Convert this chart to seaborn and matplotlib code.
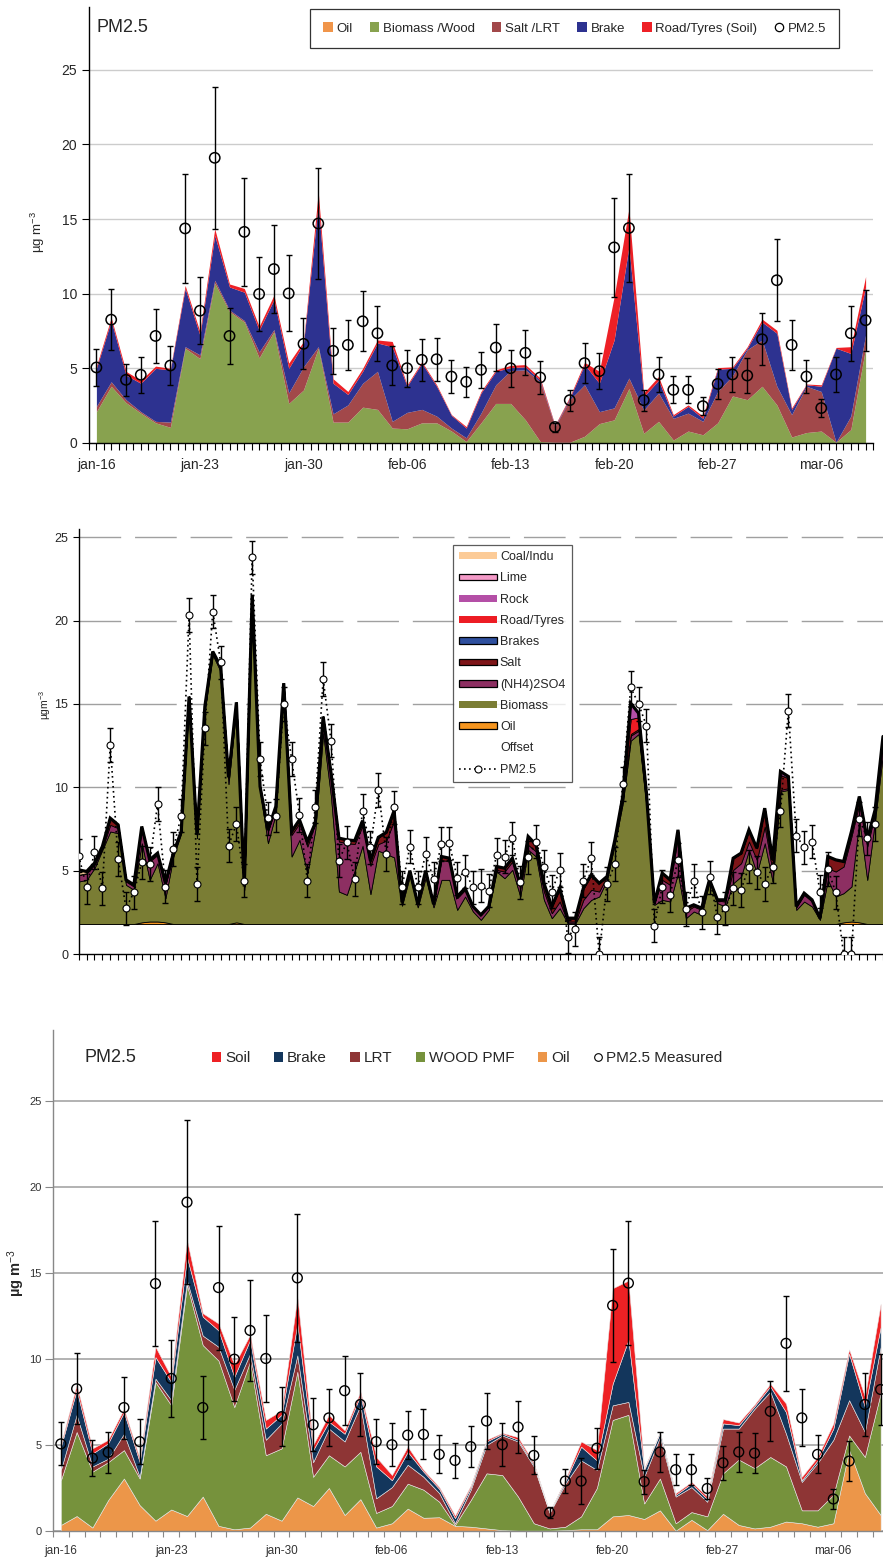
import numpy as np
import matplotlib
matplotlib.use("Agg")
import matplotlib.pyplot as plt
import seaborn as sns
from matplotlib.patches import Patch
from matplotlib.lines import Line2D

sns.set_theme(style="ticks")
plt.rcParams['font.family'] = ['Liberation Sans', 'DejaVu Sans']
plt.rcParams['mathtext.fontset'] = 'custom'
plt.rcParams['mathtext.rm'] = 'Liberation Sans'
plt.rcParams['mathtext.it'] = 'Liberation Sans:italic'
plt.rcParams['mathtext.bf'] = 'Liberation Sans:bold'

# ---------------- data ----------------
tick_labels = ["jan-16", "jan-23", "jan-30", "feb-06", "feb-13", "feb-20", "feb-27", "mar-06"]
tick_days = [0, 7, 14, 21, 28, 35, 42, 49]

# measured PM2.5 (daily) and its uncertainty
pm_top = [5.06, 8.26, 4.23, 4.57, 7.17, 5.19, 14.37, 8.86, 19.1, 7.17,
          14.14, 9.98, 11.65, 10.02, 6.64, 14.7, 6.17, 6.57, 8.15, 7.35,
          5.19, 5.01, 5.57, 5.61, 4.45, 4.1, 4.9, 6.39, 5.01, 6.04,
          4.39, 1.07, 2.87, 5.35, 4.81, 13.1, 14.4, 2.87, 4.59, 3.56,
          3.56, 2.47, 3.96, 4.59, 4.52, 6.95, 10.9, 6.57, 4.45, 2.34,
          4.59, 7.35, 8.22]
pm_bot = [5.06, 8.26, 4.23, 4.57, 7.17, 5.19, 14.37, 8.86, 19.1, 7.17,
          14.14, 9.98, 11.65, 10.02, 6.64, 14.7, 6.17, 6.57, 8.15, 7.35,
          5.19, 5.01, 5.57, 5.61, 4.45, 4.1, 4.9, 6.39, 5.01, 6.04,
          4.39, 1.07, 2.9, 2.9, 4.81, 13.1, 14.4, 2.87, 4.59, 3.56,
          3.56, 2.47, 3.96, 4.59, 4.52, 6.95, 10.9, 6.57, 4.45, 1.86,
          4.06, 7.35, 8.22]
pm_err = [1.25, 2.05, 1.05, 1.2, 1.8, 1.3, 3.65, 2.25, 4.75, 1.85,
          3.6, 2.45, 2.95, 2.55, 1.7, 3.7, 1.55, 1.65, 2.0, 1.85,
          1.3, 1.25, 1.4, 1.45, 1.1, 1.0, 1.2, 1.6, 1.25, 1.5,
          1.1, 0.3, 0.7, 1.35, 1.2, 3.3, 3.6, 0.7, 1.15, 0.9,
          0.9, 0.6, 1.0, 1.15, 1.15, 1.75, 2.75, 1.65, 1.1, 0.6,
          1.15, 1.85, 2.05]

# top panel: cumulative tops of the stacked sources
top_wood = [2.1, 3.8, 2.7, 2.0, 1.35, 1.05, 6.35, 5.65, 10.7, 8.8,
            8.1, 5.7, 7.45, 2.65, 3.55, 6.35, 1.4, 1.4, 2.4, 2.25,
            1.0, 0.95, 1.35, 1.35, 0.8, 0.1, 1.35, 2.65, 2.65, 1.55,
            0.1, 0.05, 0.05, 0.45, 1.3, 1.55, 3.65, 0.65, 1.45, 0.2,
            0.8, 0.55, 1.35, 3.15, 2.9, 3.8, 2.55, 0.4, 0.7, 0.8,
            0.05, 0.9, 6.35]
top_salt = [2.45, 4.1, 2.9, 2.1, 1.45, 1.4, 6.45, 5.9, 10.9, 8.9,
            8.2, 6.1, 7.6, 3.35, 5.1, 6.45, 1.95, 2.55, 4.0, 4.8,
            1.45, 2.05, 2.25, 1.8, 1.0, 0.35, 2.0, 3.9, 4.85, 4.9,
            4.1, 1.1, 2.9, 3.9, 2.1, 2.35, 4.35, 2.2, 3.35, 1.65,
            2.0, 1.45, 3.45, 4.5, 6.25, 6.9, 3.8, 1.9, 3.8, 3.45,
            0.05, 1.8, 7.25]
top_brake = [5.0, 8.2, 4.55, 4.0, 5.0, 4.9, 10.35, 7.2, 13.9, 10.45,
             10.1, 7.55, 9.6, 5.0, 6.65, 16.0, 4.0, 3.25, 4.8, 6.7,
             6.45, 3.8, 5.35, 3.8, 1.85, 1.0, 3.35, 4.8, 5.05, 5.1,
             4.2, 1.15, 3.0, 5.25, 4.0, 6.9, 13.15, 3.1, 4.2, 1.8,
             2.45, 1.65, 4.95, 5.0, 6.35, 8.1, 7.35, 2.25, 3.9, 3.8,
             6.35, 6.0, 10.45]
top_road = [5.15, 8.4, 4.8, 4.2, 5.15, 5.0, 10.55, 7.45, 14.35, 10.65,
            10.35, 7.8, 9.9, 5.35, 6.8, 16.8, 4.3, 3.45, 5.0, 6.9,
            6.8, 3.9, 5.45, 3.9, 1.9, 1.1, 3.45, 4.9, 5.2, 5.25,
            4.35, 1.2, 3.1, 5.4, 4.8, 9.8, 15.7, 3.35, 4.45, 1.9,
            2.55, 1.8, 5.05, 5.1, 6.45, 8.3, 7.55, 2.35, 3.95, 3.9,
            6.4, 6.45, 11.15]

# bottom panel: cumulative tops of the stacked sources
bot_oil = [0.35, 0.87, 0.2, 1.8, 3.05, 1.5, 0.6, 1.25, 0.87, 2.0,
           0.3, 0.1, 0.2, 1.0, 0.6, 1.95, 1.45, 2.5, 0.93, 1.85,
           0.2, 0.45, 1.3, 0.77, 0.8, 0.3, 0.25, 0.15, 0.05, 0.02,
           0.02, 0.02, 0.05, 0.1, 0.1, 0.85, 0.93, 0.7, 1.2, 0.02,
           0.65, 0.05, 1.0, 0.35, 0.15, 0.25, 0.55, 0.45, 0.25, 0.45,
           4.7, 2.2, 0.93]
bot_wood = [2.95, 5.75, 3.45, 4.0, 4.7, 3.05, 8.65, 7.3, 14.3, 10.8,
            9.9, 7.2, 9.85, 4.4, 4.8, 9.25, 3.15, 4.4, 3.75, 4.6,
            1.05, 1.45, 2.75, 2.4, 1.7, 0.35, 1.8, 3.35, 3.25, 2.0,
            0.45, 0.15, 0.25, 0.85, 2.5, 6.45, 6.75, 1.6, 3.05, 0.45,
            1.1, 0.85, 3.35, 4.15, 3.65, 4.3, 3.75, 1.2, 1.2, 2.1,
            5.55, 4.3, 8.0]
bot_lrt = [3.55, 6.75, 3.75, 4.2, 5.65, 3.15, 8.85, 7.6, 14.55, 11.35,
           10.7, 8.2, 10.3, 5.3, 6.25, 10.2, 4.0, 5.95, 5.2, 7.3,
           1.9, 2.55, 3.85, 3.15, 2.2, 0.45, 2.4, 5.0, 5.55, 5.2,
           3.75, 1.05, 2.75, 4.1, 3.55, 7.3, 7.5, 3.15, 5.45, 2.0,
           2.55, 1.7, 5.95, 5.95, 7.1, 8.1, 5.65, 2.85, 3.95, 5.3,
           7.6, 5.75, 10.7]
bot_brake = [4.9, 8.2, 4.5, 5.1, 6.9, 4.0, 10.1, 8.65, 15.9, 12.45,
             11.65, 8.95, 11.1, 5.95, 6.75, 12.05, 4.7, 6.35, 5.65, 7.9,
             3.75, 2.95, 4.6, 3.45, 2.45, 0.75, 2.55, 5.2, 5.65, 5.3,
             3.85, 1.08, 2.9, 4.9, 4.1, 8.55, 11.1, 3.55, 5.7, 2.1,
             2.75, 1.85, 6.25, 6.15, 7.25, 8.4, 6.9, 2.95, 4.1, 5.95,
             10.3, 7.2, 11.85]
bot_soil = [5.05, 8.5, 4.8, 5.3, 7.1, 4.2, 10.7, 8.95, 16.9, 12.65,
            12.05, 9.65, 11.4, 6.45, 7.0, 13.6, 5.0, 6.75, 5.85, 8.1,
            4.3, 3.25, 4.9, 3.55, 2.55, 0.9, 2.65, 5.3, 5.7, 5.45,
            3.95, 1.1, 3.0, 5.2, 4.7, 14.1, 14.55, 3.65, 5.75, 2.2,
            2.85, 2.0, 6.5, 6.3, 7.35, 8.55, 7.4, 3.15, 4.3, 6.25,
            10.55, 7.8, 13.2]

# middle panel (12-hourly samples): source contributions stacked on an offset
mid_offset = 1.8
mid_bio = [2.55, 2.65, 3.35, 4.45, 5.55, 5.45, 2.35, 2.05, 4.75, 2.5,
           3.5, 1.45, 4.05, 5.45, 13.45, 5.15, 12.85, 16.15, 15.15, 8.4,
           12.95, 2.05, 19.45, 7.95, 4.85, 6.65, 14.05, 4.05, 5.05, 3.05,
           5.65, 11.45, 7.65, 1.95, 1.75, 3.2, 4.7, 1.8, 4.4, 4.2,
           4.0, 1.1, 2.9, 1.0, 2.8, 1.0, 2.65, 2.65, 0.85, 1.65,
           0.75, 0.25, 0.85, 3.15, 2.75, 3.25, 1.65, 4.45, 4.05, 1.45,
           0.35, 0.95, 0.05, 0.05, 0.95, 1.45, 1.65, 2.65, 4.85, 7.25,
           11.0, 11.4, 7.05, 1.15, 1.45, 1.35, 3.05, 0.35, 0.75, 0.55,
           2.55, 1.25, 1.05, 2.45, 2.85, 4.45, 3.05, 4.85, 2.55, 7.95,
           8.05, 0.85, 1.35, 1.05, 0.25, 2.65, 1.65, 1.75, 2.1, 6.15,
           2.65, 6.25, 10.25]
mid_nh4 = [0.4, 0.4, 0.2, 0.1, 0.4, 0.3, 0.2, 0.2, 0.9, 1.1,
           0.5, 0.8, 0.15, 0.1, 0.2, 0.2, 0.2, 0.2, 0.3, 0.4,
           0.25, 0.2, 0.3, 0.3, 0.7, 0.4, 0.4, 1.3, 1.0, 1.6,
           0.4, 0.9, 1.3, 3.0, 3.1, 1.6, 1.2, 1.7, 0.4, 0.8,
           2.2, 0.2, 0.3, 0.2, 0.4, 0.2, 1.2, 1.1, 0.7, 0.4,
           0.3, 0.3, 0.2, 0.1, 0.4, 0.5, 0.5, 0.3, 0.3, 0.5,
           0.3, 0.4, 0.1, 0.1, 0.5, 0.6, 0.3, 0.2, 0.2, 0.2,
           0.3, 0.2, 0.2, 0.1, 1.2, 1.0, 2.2, 0.4, 0.3, 0.3,
           0.1, 0.15, 0.3, 0.8, 0.8, 0.5, 0.8, 1.0, 0.6, 0.1,
           0.1, 0.15, 0.4, 0.3, 0.1, 0.7, 1.5, 1.6, 3.0, 1.0,
           2.0, 0.4, 0.7]
mid_salt = [0.0, 0.0, 0.1, 0.1, 0.4, 0.2, 0.1, 0.1, 0.1, 0.1,
            0.1, 0.1, 0.05, 0.0, 0.0, 0.0, 0.0, 0.0, 0.0, 0.0,
            0.0, 0.0, 0.0, 0.0, 0.1, 0.0, 0.0, 0.2, 0.2, 0.3,
            0.0, 0.1, 0.1, 0.2, 0.2, 0.2, 0.3, 0.3, 0.4, 0.5,
            0.6, 0.0, 0.0, 0.0, 0.0, 0.0, 0.2, 0.2, 0.1, 0.1,
            0.0, 0.0, 0.0, 0.2, 0.2, 0.2, 0.2, 0.5, 0.4, 0.5,
            0.4, 0.8, 0.2, 0.2, 0.7, 0.9, 0.5, 0.0, 0.0, 0.1,
            0.1, 0.1, 0.1, 0.0, 0.4, 0.3, 0.4, 0.2, 0.1, 0.1,
            0.0, 0.05, 0.1, 0.7, 0.6, 0.7, 0.7, 1.1, 0.7, 0.9,
            0.6, 0.05, 0.1, 0.1, 0.0, 0.7, 0.7, 0.3, 0.3, 0.4,
            0.4, 0.2, 0.3]
road_idx, road_val = [69, 70, 71, 72], [0.1, 0.9, 0.7, 0.4]
rock_idx, rock_val = [70, 71, 72, 89, 90], [0.95, 0.25, 0.1, 0.2, 0.1]
oil_idx, oil_val = [8, 9, 10, 11, 20, 97, 98, 99], [0.1, 0.15, 0.15, 0.1, 0.1, 0.1, 0.15, 0.1]
coal_idx, coal_val = [0, 1], [0.3, 0.1]
mid_pm = [5.9, 4.0, 6.1, 3.95, 12.55, 5.7, 2.75, 3.7, 5.5, 5.4,
          9.0, 4.05, 6.3, 8.3, 20.35, 4.2, 13.55, 20.55, 17.5, 6.5,
          7.8, 4.4, 23.8, 11.7, 8.15, 8.3, 15.0, 11.7, 8.35, 4.4,
          8.85, 16.5, 12.8, 5.6, 6.7, 4.5, 8.6, 6.4, 9.85, 6.0,
          8.8, 4.0, 6.45, 4.0, 6.0, 4.5, 6.6, 6.65, 4.55, 4.95,
          4.0, 4.1, 3.8, 5.95, 5.85, 6.95, 4.3, 5.8, 6.75, 5.25,
          3.75, 5.05, 1.05, 1.5, 4.4, 5.75, 0.0, 4.2, 5.4, 10.2,
          16.0, 15.0, 13.7, 1.7, 4.05, 3.55, 5.65, 2.7, 4.4, 2.5,
          4.6, 2.2, 2.75, 3.95, 3.85, 5.25, 4.9, 4.2, 5.25, 8.6,
          14.6, 7.1, 6.4, 6.75, 3.75, 5.1, 3.7, 0.0, 0.0, 8.1,
          6.95, 7.8]
mid_err = 1.0

# ---------------- figure ----------------
W, H = 883, 1561
fig = plt.figure(figsize=(W / 100, H / 100), dpi=100)

def px_axes(left, top, right, bottom):
    return fig.add_axes([left / W, 1 - bottom / H, (right - left) / W, (bottom - top) / H])

day = np.arange(len(pm_top))

# ======== TOP PANEL ========
c_t = {"Oil": "#F0954A", "Biomass /Wood": "#88A24F", "Salt /LRT": "#A2484A",
       "Brake": "#2D3290", "Road/Tyres (Soil)": "#EE2026"}
ax1 = px_axes(89, 7, 873, 443)
zero = np.zeros(len(day))
for lo, hi, c in [(zero, top_wood, c_t["Biomass /Wood"]), (top_wood, top_salt, c_t["Salt /LRT"]),
                  (top_salt, top_brake, c_t["Brake"]), (top_brake, top_road, c_t["Road/Tyres (Soil)"])]:
    ax1.fill_between(day, lo, hi, color=c, lw=0, zorder=2)
ax1.errorbar(day, pm_top, yerr=pm_err, fmt='none', ecolor='black', elinewidth=1.0,
             capsize=2.5, capthick=1.0, zorder=4)
sns.scatterplot(x=day, y=pm_top, ax=ax1, s=55, color='black', facecolors='none',
                edgecolor='black', linewidth=1.1, zorder=5)
ax1.set_xlim(-0.5, 52.5)
ax1.set_ylim(0, 29.2)
ax1.set_yticks([0, 5, 10, 15, 20, 25])
ax1.yaxis.grid(True, color='#cccccc', lw=1.0)
ax1.set_axisbelow(True)
ax1.set_xticks(tick_days)
ax1.set_xticklabels(tick_labels, fontsize=10)
ax1.set_xticks(np.arange(-0.5, 52.6, 0.5), minor=True)
ax1.tick_params(axis='x', which='both', length=5, width=0.8, color='black', pad=6)
ax1.tick_params(axis='y', length=5, width=0.8, labelsize=10, color='black')
for s in ['top', 'right']:
    ax1.spines[s].set_visible(False)
for s in ['left', 'bottom']:
    ax1.spines[s].set_color('black')
    ax1.spines[s].set_linewidth(1.0)
ax1.set_xlabel('')
ax1.set_ylabel('')
h1 = [Patch(facecolor=c_t[k], edgecolor='none') for k in c_t] + \
     [Line2D([], [], ls='none', marker='o', mfc='none', mec='black', ms=6, mew=0.9)]
l1 = list(c_t.keys()) + ['PM2.5']
leg1 = ax1.legend(h1, l1, ncol=6, loc='upper left', bbox_to_anchor=(0.282, 0.995),
                  fontsize=9.5, frameon=True, fancybox=False, borderpad=1.0,
                  handlelength=0.7, handleheight=0.7, handletextpad=0.3,
                  columnspacing=1.3, borderaxespad=0)
leg1.get_frame().set_edgecolor('black')
leg1.get_frame().set_linewidth(0.9)
fig.text(97 / W, 1 - 28 / H, 'PM2.5', fontsize=13, va='center', ha='left')
fig.text(38 / W, 1 - 232 / H, 'µg m$^{-3}$', rotation=90, fontsize=9.5, ha='center', va='center')

# ======== MIDDLE PANEL ========
c_m = {"Coal/Indu": "#FCCB97", "Lime": "#F49AC8", "Rock": "#B44FA6", "Road/Tyres": "#ED1C24",
       "Brakes": "#2E4F9E", "Salt": "#7E1518", "(NH4)2SO4": "#8D2F62", "Biomass": "#7A7D34",
       "Oil": "#F5951F"}
ax2 = px_axes(78.7, 529, 883, 954)
idx = np.arange(len(mid_bio))
offset = np.full(len(idx), mid_offset)
road = np.zeros(len(idx)); road[road_idx] = road_val
rock = np.zeros(len(idx)); rock[rock_idx] = rock_val
oil = np.zeros(len(idx)); oil[oil_idx] = oil_val
coal = np.zeros(len(idx)); coal[coal_idx] = coal_val
layers = [offset, oil, np.array(mid_bio), np.array(mid_nh4), np.array(mid_salt), road, rock, coal]
cols = ['white', c_m["Oil"], c_m["Biomass"], c_m["(NH4)2SO4"], c_m["Salt"],
        c_m["Road/Tyres"], c_m["Rock"], c_m["Coal/Indu"]]
ax2.stackplot(idx, *layers, colors=cols, edgecolor='black', linewidth=0.6, zorder=2)
total = np.sum(layers, axis=0)
ax2.plot(idx, total, color='black', lw=2.3, zorder=3, solid_joinstyle='miter')
pm_idx = np.arange(len(mid_pm))
ax2.errorbar(pm_idx, mid_pm, yerr=mid_err, fmt='none', ecolor='black', elinewidth=1.0,
             capsize=2.5, capthick=1.0, zorder=4)
sns.lineplot(x=pm_idx, y=mid_pm, ax=ax2, color='black', lw=1.2, linestyle=(0, (1, 2)),
             marker='o', ms=5, mfc='white', mec='black', mew=0.8, errorbar=None,
             zorder=6)
ax2.set_xlim(0, 102)
ax2.set_ylim(0, 25.5)
ax2.set_yticks([0, 5, 10, 15, 20, 25])
ax2.yaxis.grid(True, color='#a0a0a0', lw=1.0, linestyle=(0, (30, 10)))
ax2.set_axisbelow(True)
ax2.set_xticks(idx)
ax2.set_xticklabels([])
ax2.tick_params(axis='x', length=4, width=0.8, color='black')
ax2.tick_params(axis='y', length=4, width=0.8, labelsize=9, color='black')
for s in ['top', 'right']:
    ax2.spines[s].set_visible(False)
for s in ['left', 'bottom']:
    ax2.spines[s].set_color('black')
    ax2.spines[s].set_linewidth(1.0)
ax2.set_xlabel('')
ax2.set_ylabel('')
edge = {"Lime", "Brakes", "Salt", "(NH4)2SO4", "Oil"}
h2 = [Patch(facecolor=c_m[k], edgecolor='black' if k in edge else 'none', lw=0.9) for k in c_m]
h2.append(Patch(facecolor='none', edgecolor='none'))
h2.append(Line2D([], [], color='black', ls=(0, (1, 2)), lw=1.2, marker='o', mfc='white',
                 mec='black', ms=5, mew=0.8))
l2 = list(c_m.keys()) + ['Offset', 'PM2.5']
leg2 = ax2.legend(h2, l2, loc='upper left', bbox_to_anchor=(0.4654, 0.9624), fontsize=9,
                  frameon=True, fancybox=False, borderpad=0.5, handlelength=3.0,
                  handleheight=0.45, handletextpad=0.25, labelspacing=0.74, borderaxespad=0)
leg2.get_frame().set_edgecolor('#333333')
leg2.get_frame().set_linewidth(0.9)
fig.text(45 / W, 1 - 705 / H, 'µgm$^{-3}$', rotation=90, fontsize=7.5, ha='center', va='center')

# ======== BOTTOM PANEL ========
c_b = {"Soil": "#EE2124", "Brake": "#13365C", "LRT": "#8E3535", "WOOD PMF": "#76923C",
       "Oil": "#EC9649"}
ax3 = px_axes(53, 1030, 883, 1531)
for lo, hi, c in [(zero, bot_oil, c_b["Oil"]), (bot_oil, bot_wood, c_b["WOOD PMF"]),
                  (bot_wood, bot_lrt, c_b["LRT"]), (bot_lrt, bot_brake, c_b["Brake"]),
                  (bot_brake, bot_soil, c_b["Soil"])]:
    ax3.fill_between(day, lo, hi, facecolor=c, edgecolor='#e8e8e8', lw=0.4, zorder=2)
ax3.errorbar(day, pm_bot, yerr=pm_err, fmt='none', ecolor='black', elinewidth=1.0,
             capsize=2.5, capthick=1.0, zorder=4)
sns.scatterplot(x=day, y=pm_bot, ax=ax3, s=50, color='black', facecolors='none',
                edgecolor='black', linewidth=1.0, zorder=5)
ax3.set_xlim(-0.5, 52.15)
ax3.set_ylim(0, 29.1)
ax3.set_yticks([0, 5, 10, 15, 20, 25])
ax3.yaxis.grid(True, color='#a6a6a6', lw=1.2)
ax3.set_axisbelow(True)
ax3.set_xticks(tick_days)
ax3.set_xticklabels(tick_labels, fontsize=8.5, color='#333333')
ax3.set_xticks(np.arange(-0.5, 52.2, 1.0), minor=True)
ax3.tick_params(axis='x', which='major', length=0, pad=10)
ax3.tick_params(axis='x', which='minor', length=4, width=0.8, color='#888888')
ax3.tick_params(axis='y', length=6, width=0.8, labelsize=8, color='#888888',
                labelcolor='#333333', pad=2)
for s in ['top', 'right']:
    ax3.spines[s].set_visible(False)
for s in ['left', 'bottom']:
    ax3.spines[s].set_color('#888888')
    ax3.spines[s].set_linewidth(1.0)
ax3.set_xlabel('')
ax3.set_ylabel('')
h3 = [Patch(facecolor=c_b[k], edgecolor='none') for k in c_b] + \
     [Line2D([], [], ls='none', marker='o', mfc='none', mec='black', ms=5.5, mew=0.8)]
l3 = list(c_b.keys()) + ['PM2.5 Measured']
ax3.legend(h3, l3, ncol=6, loc='center left', bbox_to_anchor=(0.1916, 0.944), fontsize=11,
           frameon=False, handlelength=0.6, handleheight=0.6, handletextpad=0.25,
           columnspacing=1.55, borderaxespad=0, borderpad=0)
fig.text(85 / W, 1 - 1058 / H, 'PM2.5', fontsize=13, va='center', ha='left')
fig.text(16 / W, 1 - 1273 / H, 'µg m$^{-3}$', rotation=90, fontsize=10.5, fontweight='bold',
         ha='center', va='center')

fig.savefig('out.png', dpi=100)
